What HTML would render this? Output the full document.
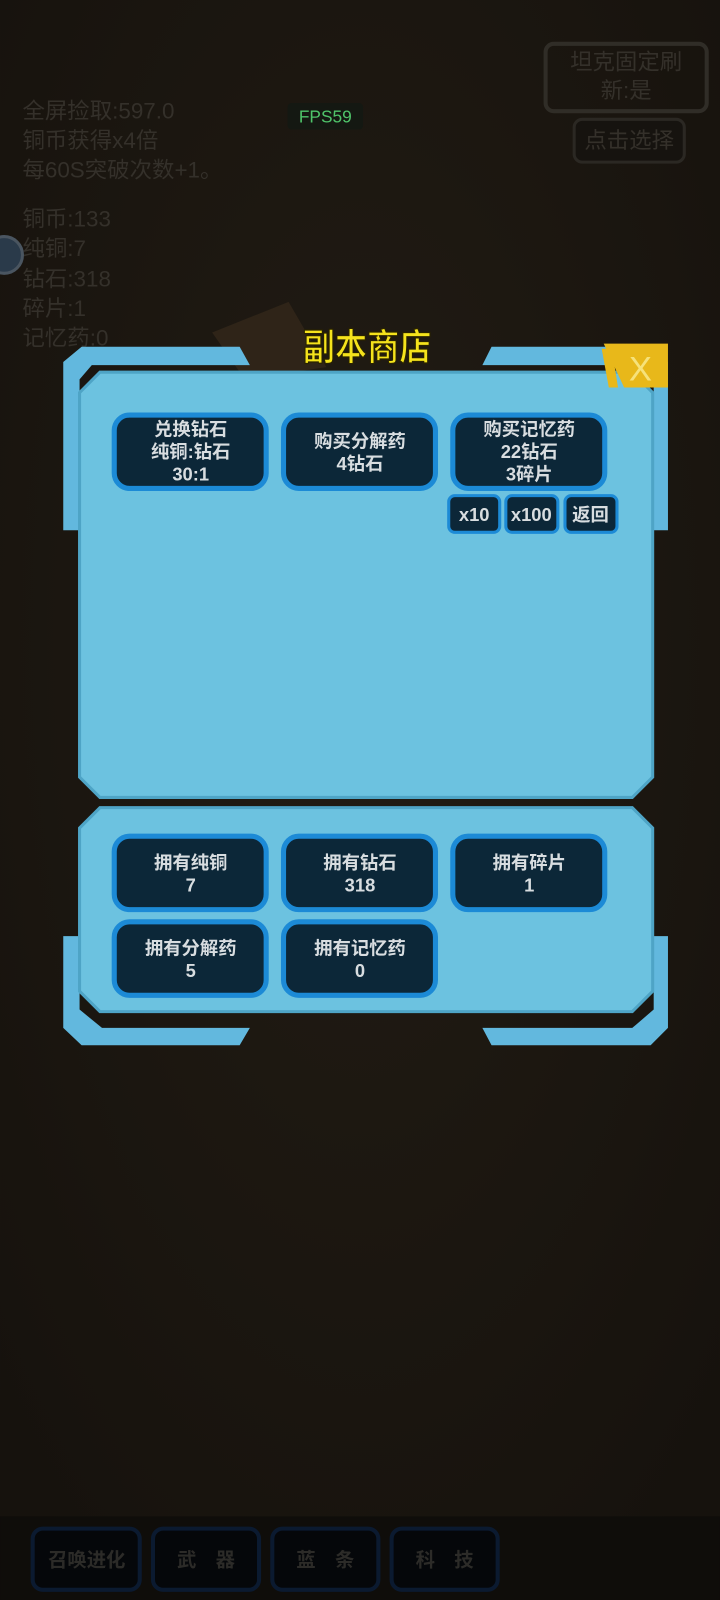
<!DOCTYPE html>
<html><head><meta charset="utf-8"><style>
html,body{margin:0;padding:0;background:#1b1712;width:720px;height:1600px;overflow:hidden}
svg{display:block}
text{font-family:"Liberation Sans","Noto Sans CJK SC",sans-serif}
</style></head><body>
<svg width="720" height="1600" viewBox="0 0 706 1569" xmlns="http://www.w3.org/2000/svg">
<defs>
<radialGradient id="bg" cx="50%" cy="40%" r="70%"><stop offset="0" stop-color="#221c14"/><stop offset="1" stop-color="#16120d"/></radialGradient>
</defs>
<rect width="706" height="1569" fill="url(#bg)"/>
<rect y="1487" width="706" height="82" fill="#0f0d0a"/>
<g fill="#34302a" font-size="22">
<text x="22" y="116">全屏捡取:597.0</text>
<text x="22" y="145">铜币获得x4倍</text>
<text x="22" y="174">每60S突破次数+1。</text>
<text x="22" y="222">铜币:133</text>
<text x="22" y="251">纯铜:7</text>
<text x="22" y="281">钻石:318</text>
<text x="22" y="310">碎片:1</text>
<text x="22" y="339">记忆药:0</text>
</g>
<circle cx="4" cy="250" r="18" fill="#2a3a4a" stroke="#4a5560" stroke-width="3"/>
<rect x="282" y="101" width="74" height="26" rx="4" fill="#141812"/>
<text x="319" y="120" font-size="17" fill="#4fc46a" text-anchor="middle">FPS59</text>
<rect x="535" y="43" width="158" height="66" rx="8" fill="none" stroke="#302d27" stroke-width="4"/>
<text x="614" y="68" font-size="22" fill="#34302a" text-anchor="middle">坦克固定刷</text>
<text x="614" y="96" font-size="22" fill="#34302a" text-anchor="middle">新:是</text>
<rect x="563" y="117" width="108" height="42" rx="8" fill="#16130f" stroke="#2b2823" stroke-width="3"/>
<text x="617" y="145" font-size="22" fill="#34302a" text-anchor="middle">点击选择</text>
<polygon points="208,326 283,296 320,360 240,372" fill="#2f2418"/>

<g fill="#62b8de">
<polygon points="62,355 80,340 235,340 245,358 90,358 78,372 78,520 62,520"/>
<polygon points="482,340 638,340 655,355 655,520 641,520 641,372 628,358 473,358"/>
<polygon points="62,918 78,918 78,990 100,1008 245,1008 235,1025 80,1025 62,1008"/>
<polygon points="641,918 655,918 655,1008 638,1025 482,1025 473,1008 620,1008 641,990"/>
</g>
<polygon points="98,365 620,365 640,385 640,762 620,782 98,782 78,762 78,385" fill="#6cc2e0" stroke="#4ea4c6" stroke-width="3"/>
<polygon points="98,792 620,792 640,812 640,972 620,992 98,992 78,972 78,812" fill="#6cc2e0" stroke="#4ea4c6" stroke-width="3"/>
<text x="360" y="353" font-size="36" font-weight="bold" fill="#f5e31c" text-anchor="middle" stroke="#2a2300" stroke-width="1.2" textLength="126" lengthAdjust="spacingAndGlyphs">副本商店</text>
<polygon points="592,337 655,337 655,380 612,380" fill="#e8b81a"/>
<polygon points="590,342 600,342 606,380 597,380" fill="#e8b81a"/>
<text x="628" y="373" font-size="34" fill="#f6e27a" text-anchor="middle">X</text>
<g fill="#0c2738" stroke="#1c8ad6" stroke-width="5">
<rect x="112" y="407" width="149" height="72" rx="15"/>
<rect x="278" y="407" width="149" height="72" rx="15"/>
<rect x="444" y="407" width="149" height="72" rx="15"/>
<rect x="440" y="486" width="50" height="36" rx="6" stroke-width="3"/>
<rect x="496" y="486" width="51" height="36" rx="6" stroke-width="3"/>
<rect x="554" y="486" width="51" height="36" rx="6" stroke-width="3"/>
<rect x="112" y="820" width="149" height="72" rx="15"/>
<rect x="278" y="820" width="149" height="72" rx="15"/>
<rect x="444" y="820" width="149" height="72" rx="15"/>
<rect x="112" y="904" width="149" height="72" rx="15"/>
<rect x="278" y="904" width="149" height="72" rx="15"/>
</g>
<g fill="#d8dde0" font-size="18" font-weight="bold" text-anchor="middle">
<text x="187" y="427">兑换钻石</text><text x="187" y="449">纯铜:钻石</text><text x="187" y="471">30:1</text>
<text x="353" y="439">购买分解药</text><text x="353" y="461">4钻石</text>
<text x="519" y="427">购买记忆药</text><text x="519" y="449">22钻石</text><text x="519" y="471">3碎片</text>
<text x="465" y="511">x10</text><text x="521" y="511">x100</text><text x="579" y="511">返回</text>
<text x="187" y="852">拥有纯铜</text><text x="187" y="874">7</text>
<text x="353" y="852">拥有钻石</text><text x="353" y="874">318</text>
<text x="519" y="852">拥有碎片</text><text x="519" y="874">1</text>
<text x="187" y="936">拥有分解药</text><text x="187" y="958">5</text>
<text x="353" y="936">拥有记忆药</text><text x="353" y="958">0</text>
</g>
<g fill="#05070a" stroke="#0b1a30" stroke-width="4">
<rect x="32" y="1499" width="105" height="60" rx="10"/>
<rect x="150" y="1499" width="104" height="60" rx="10"/>
<rect x="267" y="1499" width="104" height="60" rx="10"/>
<rect x="384" y="1499" width="104" height="60" rx="10"/>
</g>
<g fill="#2c2b28" font-size="19" font-weight="bold" text-anchor="middle">
<text x="85" y="1536">召唤进化</text>
<text x="202" y="1536">武　器</text>
<text x="319" y="1536">蓝　条</text>
<text x="436" y="1536">科　技</text>
</g>
</svg>
</body></html>
